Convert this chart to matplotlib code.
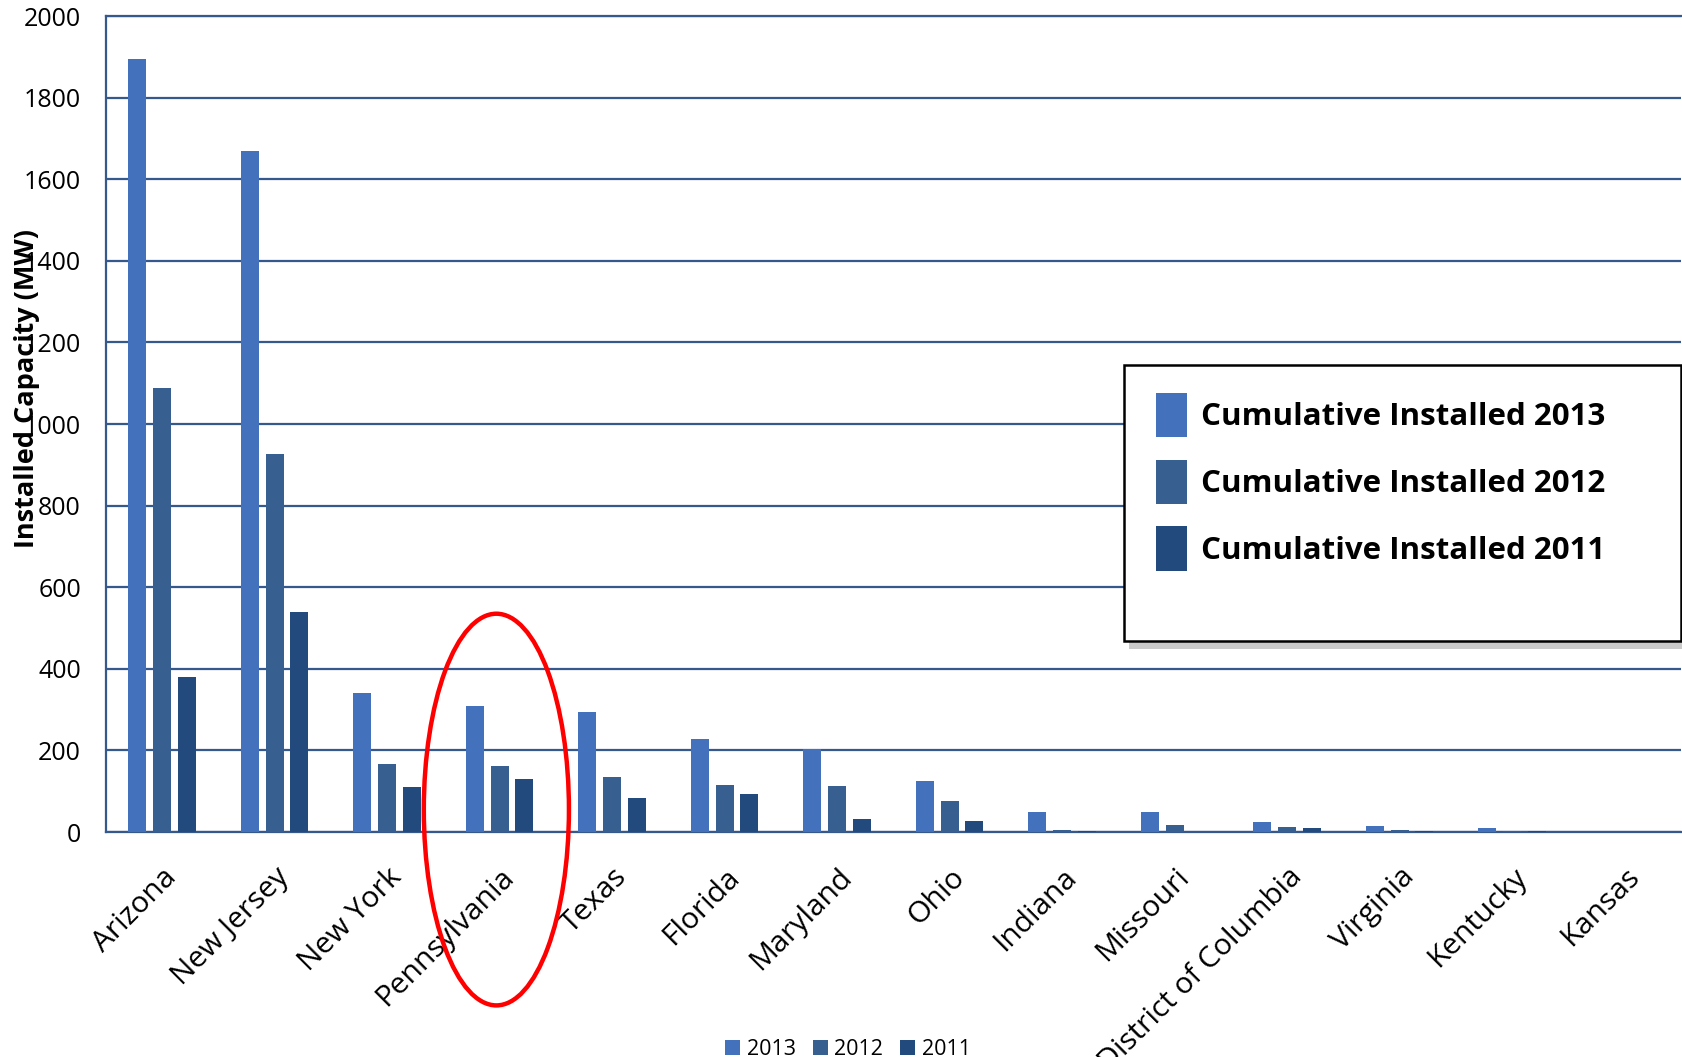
import numpy as np
import matplotlib.pyplot as plt
from matplotlib.patches import Ellipse, Rectangle

plt.rcParams['font.family'] = ['Open Sans', 'DejaVu Sans']

# datos (MW)
estados = ['Arizona', 'New Jersey', 'New York', 'Pennsylvania', 'Texas', 'Florida',
           'Maryland', 'Ohio', 'Indiana', 'Missouri', 'District of Columbia',
           'Virginia', 'Kentucky', 'Kansas']
cap_2013 = [1894, 1668, 340, 308, 295, 227, 204, 125, 49, 48, 25, 14, 9, 0.5]
cap_2012 = [1089, 927, 167, 161, 135, 114, 113, 77, 4, 17, 12, 6, 3, 0]
cap_2011 = [380, 538, 111, 130, 83, 92, 33, 28, 3, 0, 9, 3, 2, 0]

c13 = '#4371BB'
c12 = '#376091'
c11 = '#234A7D'
c_grid = '#35598C'

x = np.arange(len(estados))
ancho = 0.16
sep = 0.22

fig = plt.figure(figsize=(16.83, 10.57), dpi=100)
ax = fig.add_axes([106/1683, 1 - 832/1057, 1575/1683, 816/1057])

b13 = ax.bar(x - sep, cap_2013, ancho, color=c13, zorder=3)
b12 = ax.bar(x, cap_2012, ancho, color=c12, zorder=3)
b11 = ax.bar(x + sep, cap_2011, ancho, color=c11, zorder=3)

ax.set_xlim(-0.5, len(estados) - 0.5)
ax.set_ylim(0, 2000)
ax.set_yticks(np.arange(0, 2001, 200))
ax.yaxis.grid(True, color=c_grid, linewidth=1.6, zorder=0)
ax.set_axisbelow(True)

ax.spines['right'].set_visible(False)
for s in ['left', 'bottom', 'top']:
    ax.spines[s].set_color(c_grid)
    ax.spines[s].set_linewidth(1.6)

ax.tick_params(axis='both', length=0, labelsize=18)
ax.tick_params(axis='y', pad=18)
ax.set_xticks(x)
ax.set_xticklabels(estados, rotation=45, ha='right', va='top',
                   rotation_mode='anchor', fontsize=21.5)
ax.tick_params(axis='x', pad=22)

# titulo del eje y (se superpone a los numeros como en el original)
fig.text(27/1683, 1 - 389/1057, 'Installed Capacity (MW)', rotation=90,
         ha='center', va='center', fontsize=19.5, fontweight='bold')

# circulo rojo sobre Pennsylvania
i_pa = estados.index('Pennsylvania')
ax.add_patch(Ellipse((i_pa - 0.03, 55), 1.29, 960, fill=False, edgecolor='red',
                     linewidth=3.2, clip_on=False, zorder=5))

# leyenda grande con sombra
lx0, ly0, lw, lh = 1124/1683, 1 - 641/1057, 557/1683, 276/1057
fig.add_artist(Rectangle((lx0 + 5/1683, ly0 - 8/1057), lw, lh, transform=fig.transFigure,
                         facecolor='#a0a0a0', edgecolor='none', alpha=0.55, zorder=6))
fig.add_artist(Rectangle((lx0, ly0), lw, lh, transform=fig.transFigure,
                         facecolor='white', edgecolor='black', linewidth=1.8, zorder=7))
leg = fig.legend([b13, b12, b11],
                 ['Cumulative Installed 2013', 'Cumulative Installed 2012',
                  'Cumulative Installed 2011'],
                 loc='upper left', bbox_to_anchor=(1156/1683, 1 - 393/1057),
                 frameon=False, prop={'weight': 'bold', 'size': 22.5},
                 handlelength=1.0, handleheight=1.8, handletextpad=0.45,
                 labelspacing=0.72, borderpad=0, borderaxespad=0)
leg.set_zorder(8)

# leyenda chica de abajo (cortada)
fig.legend([b13, b12, b11], ['2013', '2012', '2011'], loc='lower center',
           bbox_to_anchor=(848/1683, -22/1057), ncol=3, frameon=False, fontsize=15.5,
           handlelength=0.7, handleheight=0.7, handletextpad=0.3, columnspacing=0.8)

fig.savefig('out.png', dpi=100)
